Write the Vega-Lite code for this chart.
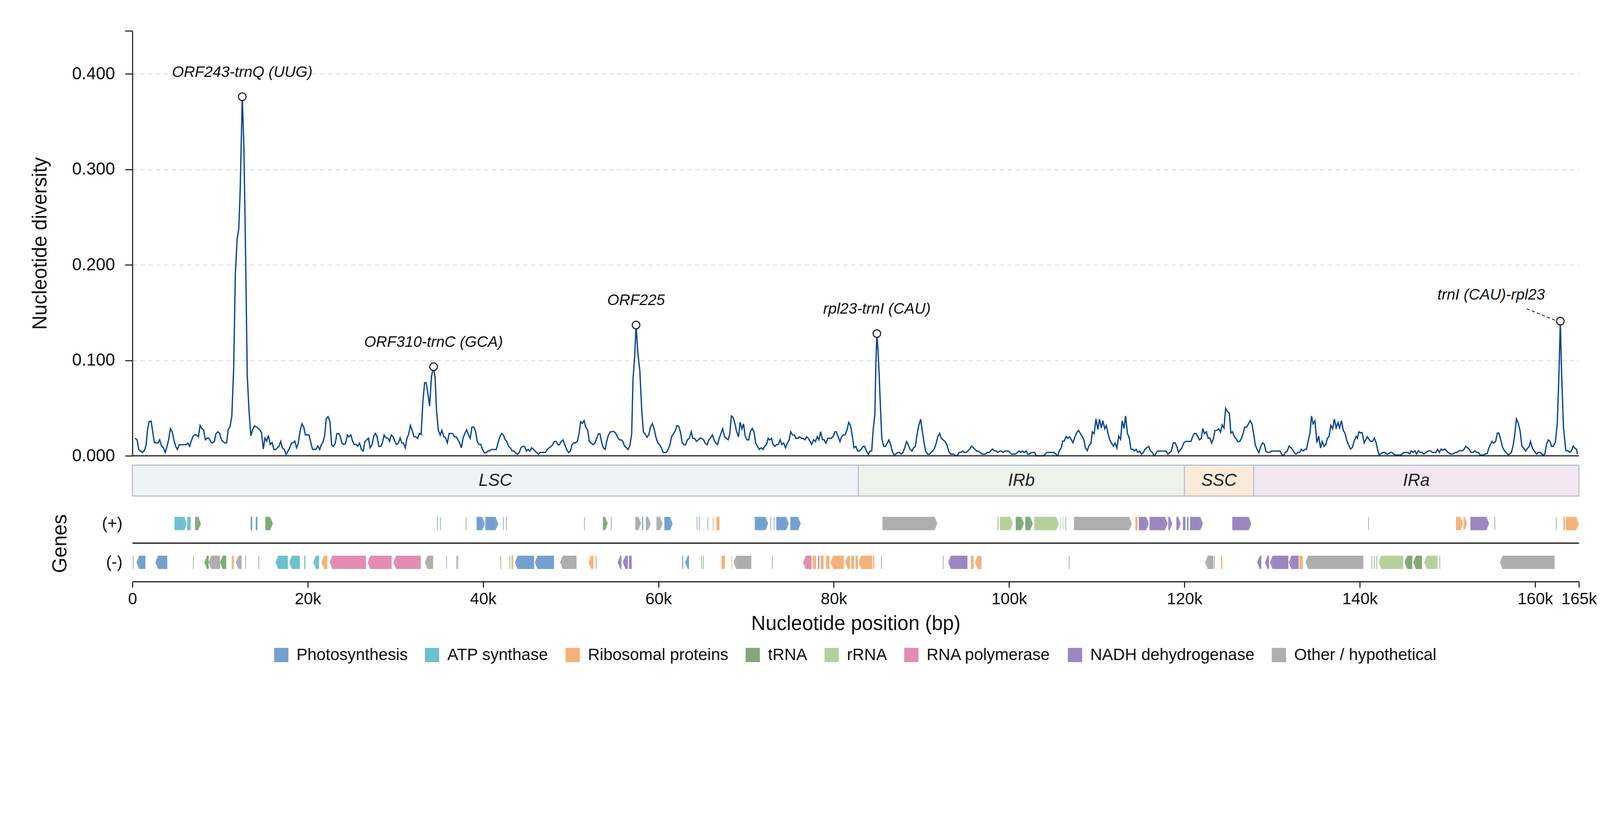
{
  "$schema": "https://vega.github.io/schema/vega-lite/v6.json",
  "background": "white",
  "padding": {"left": 77, "top": 77, "right": 5, "bottom": 5},
  "bounds": "flush",
  "spacing": 24,
  "config": {
    "view": {"stroke": null},
    "font": "Liberation Sans",
    "axis": {"labelColor": "#111", "titleColor": "#111", "titleFontWeight": "normal", "domainColor": "#222", "tickColor": "#222"}
  },
  "datasets": {
    "diversity": [
      {"pos":300,"pi":0.0183},{"pos":540,"pi":0.0167},{"pos":720,"pi":0.0067},{"pos":1120,"pi":0.0035},{"pos":1360,"pi":0.0054},{"pos":1550,"pi":0.0106},{"pos":1730,"pi":0.0274},{"pos":1900,"pi":0.0358},{"pos":2140,"pi":0.0363},{"pos":2310,"pi":0.0255},{"pos":2500,"pi":0.0138},{"pos":2910,"pi":0.0134},{"pos":3110,"pi":0.0168},{"pos":3320,"pi":0.0102},{"pos":3530,"pi":0.0084},{"pos":3740,"pi":0.0035},{"pos":3970,"pi":0.0106},{"pos":4150,"pi":0.0177},{"pos":4330,"pi":0.0284},{"pos":4540,"pi":0.0251},{"pos":4720,"pi":0.0171},{"pos":4920,"pi":0.0102},{"pos":5130,"pi":0.0067},{"pos":5340,"pi":0.0116},{"pos":6120,"pi":0.0116},{"pos":6330,"pi":0.0133},{"pos":6520,"pi":0.0099},{"pos":6700,"pi":0.0151},{"pos":6910,"pi":0.0203},{"pos":7120,"pi":0.0221},{"pos":7330,"pi":0.0218},{"pos":7530,"pi":0.0199},{"pos":7720,"pi":0.0318},{"pos":7900,"pi":0.0287},{"pos":8110,"pi":0.0273},{"pos":8330,"pi":0.0167},{"pos":8540,"pi":0.0186},{"pos":8720,"pi":0.0185},{"pos":8910,"pi":0.0151},{"pos":9110,"pi":0.0133},{"pos":9350,"pi":0.0151},{"pos":9530,"pi":0.0231},{"pos":9740,"pi":0.0251},{"pos":9950,"pi":0.0235},{"pos":10170,"pi":0.0164},{"pos":10530,"pi":0.0134},{"pos":10750,"pi":0.0138},{"pos":10920,"pi":0.0273},{"pos":11130,"pi":0.0304},{"pos":11340,"pi":0.0416},{"pos":11550,"pi":0.092},{"pos":11740,"pi":0.19},{"pos":11940,"pi":0.227},{"pos":12130,"pi":0.2375},{"pos":12290,"pi":0.277},{"pos":12530,"pi":0.376},{"pos":12720,"pi":0.322},{"pos":12920,"pi":0.203},{"pos":13100,"pi":0.084},{"pos":13300,"pi":0.047},{"pos":13510,"pi":0.0209},{"pos":13730,"pi":0.028},{"pos":13940,"pi":0.0313},{"pos":14180,"pi":0.03},{"pos":14510,"pi":0.0276},{"pos":14720,"pi":0.0244},{"pos":14930,"pi":0.0071},{"pos":15110,"pi":0.0185},{"pos":15320,"pi":0.0154},{"pos":15510,"pi":0.0213},{"pos":15720,"pi":0.0119},{"pos":15930,"pi":0.014},{"pos":16140,"pi":0.0066},{"pos":16350,"pi":0.0066},{"pos":16710,"pi":0.0099},{"pos":16920,"pi":0.0151},{"pos":17100,"pi":0.0084},{"pos":17320,"pi":0.0067},{"pos":17530,"pi":0.0014},{"pos":17920,"pi":0.0078},{"pos":18130,"pi":0.0133},{"pos":18340,"pi":0.0136},{"pos":18520,"pi":0.0154},{"pos":18730,"pi":0.0084},{"pos":18910,"pi":0.0129},{"pos":19130,"pi":0.0262},{"pos":19340,"pi":0.0335},{"pos":19550,"pi":0.0298},{"pos":19730,"pi":0.0218},{"pos":20150,"pi":0.0218},{"pos":20360,"pi":0.0134},{"pos":20540,"pi":0.0068},{"pos":20940,"pi":0.0068},{"pos":21150,"pi":0.0103},{"pos":21360,"pi":0.0066},{"pos":21540,"pi":0.0115},{"pos":21750,"pi":0.0147},{"pos":21930,"pi":0.0213},{"pos":22110,"pi":0.0391},{"pos":22320,"pi":0.041},{"pos":22530,"pi":0.0358},{"pos":22720,"pi":0.0116},{"pos":22930,"pi":0.0098},{"pos":23140,"pi":0.0132},{"pos":23320,"pi":0.0233},{"pos":23530,"pi":0.0233},{"pos":23700,"pi":0.0205},{"pos":23900,"pi":0.0132},{"pos":24100,"pi":0.0118},{"pos":24310,"pi":0.0132},{"pos":24520,"pi":0.0218},{"pos":24700,"pi":0.0199},{"pos":24910,"pi":0.0218},{"pos":25110,"pi":0.0154},{"pos":25300,"pi":0.0119},{"pos":25510,"pi":0.0119},{"pos":25710,"pi":0.0102},{"pos":25910,"pi":0.0133},{"pos":26130,"pi":0.0063},{"pos":26330,"pi":0.005},{"pos":26520,"pi":0.0149},{"pos":26930,"pi":0.0186},{"pos":27110,"pi":0.0084},{"pos":27320,"pi":0.0114},{"pos":27520,"pi":0.0203},{"pos":27720,"pi":0.0234},{"pos":27910,"pi":0.02},{"pos":28110,"pi":0.0099},{"pos":28320,"pi":0.0099},{"pos":28510,"pi":0.0133},{"pos":28710,"pi":0.0218},{"pos":28920,"pi":0.0187},{"pos":29130,"pi":0.0187},{"pos":29330,"pi":0.0151},{"pos":29530,"pi":0.0218},{"pos":29740,"pi":0.02},{"pos":29930,"pi":0.0151},{"pos":30130,"pi":0.0118},{"pos":30340,"pi":0.0133},{"pos":30540,"pi":0.0186},{"pos":30730,"pi":0.0136},{"pos":30910,"pi":0.0133},{"pos":31120,"pi":0.0083},{"pos":31320,"pi":0.0185},{"pos":31520,"pi":0.0229},{"pos":31710,"pi":0.0318},{"pos":31910,"pi":0.0267},{"pos":32120,"pi":0.0199},{"pos":32330,"pi":0.0199},{"pos":32530,"pi":0.0182},{"pos":32720,"pi":0.0234},{"pos":32930,"pi":0.0222},{"pos":33130,"pi":0.0565},{"pos":33330,"pi":0.0765},{"pos":33510,"pi":0.0765},{"pos":33720,"pi":0.0642},{"pos":33900,"pi":0.0521},{"pos":34110,"pi":0.0829},{"pos":34350,"pi":0.0933},{"pos":34530,"pi":0.0817},{"pos":34680,"pi":0.0487},{"pos":34890,"pi":0.0267},{"pos":35110,"pi":0.0216},{"pos":35300,"pi":0.0267},{"pos":35510,"pi":0.0203},{"pos":35710,"pi":0.019},{"pos":35920,"pi":0.0136},{"pos":36130,"pi":0.0234},{"pos":36520,"pi":0.0234},{"pos":36740,"pi":0.0199},{"pos":36950,"pi":0.0198},{"pos":37340,"pi":0.0132},{"pos":37520,"pi":0.0083},{"pos":37730,"pi":0.019},{"pos":37930,"pi":0.0235},{"pos":38120,"pi":0.0273},{"pos":38330,"pi":0.022},{"pos":38530,"pi":0.0182},{"pos":38730,"pi":0.0302},{"pos":38940,"pi":0.0301},{"pos":39150,"pi":0.0255},{"pos":39330,"pi":0.0151},{"pos":39540,"pi":0.0119},{"pos":39740,"pi":0.0119},{"pos":39930,"pi":0.0067},{"pos":40140,"pi":0.0031},{"pos":40340,"pi":0.0031},{"pos":40540,"pi":0.005},{"pos":40720,"pi":0.005},{"pos":40930,"pi":0.0066},{"pos":41500,"pi":0.0066},{"pos":41710,"pi":0.0138},{"pos":41920,"pi":0.02},{"pos":42120,"pi":0.0234},{"pos":42300,"pi":0.022},{"pos":42530,"pi":0.0167},{"pos":42710,"pi":0.0151},{"pos":42920,"pi":0.0099},{"pos":43100,"pi":0.0084},{"pos":43310,"pi":0.0053},{"pos":43520,"pi":0.005},{"pos":43730,"pi":0.0031},{"pos":43930,"pi":0.0016},{"pos":44130,"pi":0.0035},{"pos":44340,"pi":0.0087},{"pos":44520,"pi":0.0099},{"pos":44730,"pi":0.0099},{"pos":44940,"pi":0.005},{"pos":45140,"pi":0.0067},{"pos":45330,"pi":0.005},{"pos":45540,"pi":0.0084},{"pos":46330,"pi":0.0016},{"pos":46510,"pi":0.0035},{"pos":47110,"pi":0.0035},{"pos":47330,"pi":0.0068},{"pos":47540,"pi":0.0084},{"pos":47750,"pi":0.0099},{"pos":47930,"pi":0.0116},{"pos":48140,"pi":0.0151},{"pos":48340,"pi":0.0151},{"pos":48530,"pi":0.0116},{"pos":48710,"pi":0.0116},{"pos":48910,"pi":0.0149},{"pos":49120,"pi":0.0167},{"pos":49320,"pi":0.0115},{"pos":49530,"pi":0.0066},{"pos":49740,"pi":0.0034},{"pos":49950,"pi":0.005},{"pos":50150,"pi":0.0116},{"pos":50340,"pi":0.0136},{"pos":50550,"pi":0.0136},{"pos":50760,"pi":0.0154},{"pos":50950,"pi":0.0235},{"pos":51130,"pi":0.0357},{"pos":51310,"pi":0.0339},{"pos":51520,"pi":0.0368},{"pos":51700,"pi":0.03},{"pos":51940,"pi":0.0265},{"pos":52120,"pi":0.0149},{"pos":52330,"pi":0.0133},{"pos":52540,"pi":0.0116},{"pos":52760,"pi":0.0133},{"pos":52950,"pi":0.0182},{"pos":53150,"pi":0.0229},{"pos":53330,"pi":0.0229},{"pos":53540,"pi":0.0136},{"pos":53720,"pi":0.0084},{"pos":53930,"pi":0.0068},{"pos":54110,"pi":0.0154},{"pos":54290,"pi":0.0218},{"pos":54540,"pi":0.0252},{"pos":54900,"pi":0.0255},{"pos":55110,"pi":0.0238},{"pos":55320,"pi":0.02},{"pos":55530,"pi":0.0167},{"pos":55740,"pi":0.0167},{"pos":55950,"pi":0.0149},{"pos":56130,"pi":0.0102},{"pos":56350,"pi":0.0084},{"pos":56530,"pi":0.0066},{"pos":56740,"pi":0.0105},{"pos":56950,"pi":0.0229},{"pos":57100,"pi":0.0797},{"pos":57300,"pi":0.105},{"pos":57450,"pi":0.137},{"pos":57650,"pi":0.108},{"pos":57880,"pi":0.089},{"pos":58100,"pi":0.0474},{"pos":58290,"pi":0.0248},{"pos":58490,"pi":0.0229},{"pos":58700,"pi":0.0193},{"pos":58910,"pi":0.0222},{"pos":59090,"pi":0.03},{"pos":59300,"pi":0.0337},{"pos":59510,"pi":0.0283},{"pos":59720,"pi":0.0193},{"pos":59940,"pi":0.0134},{"pos":60120,"pi":0.0118},{"pos":60360,"pi":0.008},{"pos":60540,"pi":0.0034},{"pos":60900,"pi":0.0034},{"pos":61110,"pi":0.0066},{"pos":61320,"pi":0.0115},{"pos":61500,"pi":0.02},{"pos":61710,"pi":0.0231},{"pos":61930,"pi":0.0264},{"pos":62110,"pi":0.0317},{"pos":62320,"pi":0.0309},{"pos":62530,"pi":0.0242},{"pos":62710,"pi":0.0136},{"pos":62920,"pi":0.0115},{"pos":63100,"pi":0.0115},{"pos":63310,"pi":0.0167},{"pos":63520,"pi":0.0182},{"pos":63740,"pi":0.0252},{"pos":63920,"pi":0.0183},{"pos":64130,"pi":0.0182},{"pos":64340,"pi":0.0151},{"pos":64550,"pi":0.0167},{"pos":64760,"pi":0.0186},{"pos":64940,"pi":0.0183},{"pos":65150,"pi":0.0167},{"pos":65330,"pi":0.0133},{"pos":65550,"pi":0.0115},{"pos":65760,"pi":0.0169},{"pos":65940,"pi":0.0185},{"pos":66150,"pi":0.0218},{"pos":66360,"pi":0.0164},{"pos":66540,"pi":0.0133},{"pos":66750,"pi":0.0118},{"pos":66930,"pi":0.0182},{"pos":67140,"pi":0.0236},{"pos":67330,"pi":0.0283},{"pos":67540,"pi":0.02},{"pos":67750,"pi":0.0183},{"pos":67960,"pi":0.0168},{"pos":68140,"pi":0.0229},{"pos":68320,"pi":0.0417},{"pos":68530,"pi":0.0401},{"pos":68740,"pi":0.0332},{"pos":68920,"pi":0.0252},{"pos":69140,"pi":0.0199},{"pos":69320,"pi":0.0351},{"pos":69530,"pi":0.028},{"pos":69710,"pi":0.0335},{"pos":69900,"pi":0.0205},{"pos":70090,"pi":0.0167},{"pos":70300,"pi":0.0167},{"pos":70490,"pi":0.0252},{"pos":70700,"pi":0.0286},{"pos":70910,"pi":0.0249},{"pos":71090,"pi":0.0133},{"pos":71300,"pi":0.0099},{"pos":71510,"pi":0.0067},{"pos":71720,"pi":0.0084},{"pos":71930,"pi":0.0066},{"pos":72110,"pi":0.0099},{"pos":72330,"pi":0.0118},{"pos":72510,"pi":0.0183},{"pos":72690,"pi":0.0167},{"pos":72900,"pi":0.0183},{"pos":73080,"pi":0.0118},{"pos":73290,"pi":0.0099},{"pos":73470,"pi":0.0118},{"pos":73680,"pi":0.0118},{"pos":73890,"pi":0.0168},{"pos":74070,"pi":0.0118},{"pos":74290,"pi":0.0133},{"pos":74500,"pi":0.0084},{"pos":74710,"pi":0.0133},{"pos":74920,"pi":0.0168},{"pos":75100,"pi":0.0252},{"pos":75310,"pi":0.0218},{"pos":75520,"pi":0.0216},{"pos":75700,"pi":0.0183},{"pos":75920,"pi":0.0183},{"pos":76100,"pi":0.02},{"pos":76310,"pi":0.0183},{"pos":76490,"pi":0.0183},{"pos":76700,"pi":0.0167},{"pos":76910,"pi":0.02},{"pos":77090,"pi":0.0183},{"pos":77300,"pi":0.0151},{"pos":77480,"pi":0.0118},{"pos":77700,"pi":0.0168},{"pos":77910,"pi":0.0151},{"pos":78120,"pi":0.02},{"pos":78300,"pi":0.0167},{"pos":78510,"pi":0.0252},{"pos":78720,"pi":0.0168},{"pos":78900,"pi":0.0168},{"pos":79110,"pi":0.0133},{"pos":79320,"pi":0.0183},{"pos":79720,"pi":0.0183},{"pos":79930,"pi":0.0203},{"pos":80140,"pi":0.0252},{"pos":80290,"pi":0.0252},{"pos":80500,"pi":0.02},{"pos":80710,"pi":0.0149},{"pos":80890,"pi":0.02},{"pos":81100,"pi":0.0218},{"pos":81280,"pi":0.0218},{"pos":81500,"pi":0.0267},{"pos":81710,"pi":0.035},{"pos":81920,"pi":0.0317},{"pos":82130,"pi":0.02},{"pos":82310,"pi":0.0084},{"pos":82520,"pi":0.0099},{"pos":82730,"pi":0.005},{"pos":82910,"pi":0.005},{"pos":83120,"pi":0.0066},{"pos":83340,"pi":0.0099},{"pos":83520,"pi":0.0099},{"pos":83730,"pi":0.0048},{"pos":83940,"pi":0.0016},{"pos":84120,"pi":0.005},{"pos":84330,"pi":0.005},{"pos":84510,"pi":0.0287},{"pos":84690,"pi":0.0428},{"pos":84800,"pi":0.095},{"pos":84920,"pi":0.128},{"pos":85050,"pi":0.11},{"pos":85180,"pi":0.085},{"pos":85330,"pi":0.05},{"pos":85480,"pi":0.0182},{"pos":85690,"pi":0.0099},{"pos":85900,"pi":0.0099},{"pos":86110,"pi":0.0133},{"pos":86290,"pi":0.0167},{"pos":86500,"pi":0.0115},{"pos":86710,"pi":0.0035},{"pos":86900,"pi":0.0009},{"pos":87110,"pi":0.0022},{"pos":87320,"pi":0.0035},{"pos":87500,"pi":0.0035},{"pos":87710,"pi":0.0019},{"pos":87890,"pi":0.0035},{"pos":88100,"pi":0.0084},{"pos":88310,"pi":0.0149},{"pos":88490,"pi":0.0118},{"pos":88710,"pi":0.0066},{"pos":88920,"pi":0.005},{"pos":89100,"pi":0.0084},{"pos":89310,"pi":0.0099},{"pos":89490,"pi":0.0216},{"pos":89700,"pi":0.0319},{"pos":89910,"pi":0.0384},{"pos":90090,"pi":0.0267},{"pos":90300,"pi":0.0136},{"pos":90480,"pi":0.005},{"pos":90700,"pi":0.0017},{"pos":90910,"pi":0.0017},{"pos":91090,"pi":0.0035},{"pos":91300,"pi":0.005},{"pos":91510,"pi":0.0084},{"pos":91690,"pi":0.0133},{"pos":91870,"pi":0.02},{"pos":92080,"pi":0.0235},{"pos":92270,"pi":0.0183},{"pos":92480,"pi":0.0167},{"pos":92690,"pi":0.0151},{"pos":92900,"pi":0.0116},{"pos":93110,"pi":0.005},{"pos":93320,"pi":0.0018},{"pos":93690,"pi":0.0018},{"pos":93900,"pi":0.0001},{"pos":94080,"pi":0.0001},{"pos":94290,"pi":0.0035},{"pos":94500,"pi":0.0035},{"pos":94680,"pi":0.005},{"pos":94890,"pi":0.0035},{"pos":95100,"pi":0.0035},{"pos":95280,"pi":0.005},{"pos":95500,"pi":0.0068},{"pos":95710,"pi":0.0102},{"pos":95890,"pi":0.0087},{"pos":96100,"pi":0.0068},{"pos":96310,"pi":0.005},{"pos":96490,"pi":0.005},{"pos":96700,"pi":0.0035},{"pos":96910,"pi":0.0018},{"pos":97270,"pi":0.0018},{"pos":97520,"pi":0.0035},{"pos":97700,"pi":0.0035},{"pos":97910,"pi":0.0053},{"pos":98120,"pi":0.0071},{"pos":98300,"pi":0.0053},{"pos":98510,"pi":0.0053},{"pos":98720,"pi":0.0035},{"pos":98930,"pi":0.005},{"pos":99110,"pi":0.005},{"pos":99330,"pi":0.0035},{"pos":99510,"pi":0.005},{"pos":99900,"pi":0.005},{"pos":100110,"pi":0.0035},{"pos":100290,"pi":0.0018},{"pos":100710,"pi":0.0018},{"pos":100930,"pi":0.0035},{"pos":101140,"pi":0.005},{"pos":101320,"pi":0.0035},{"pos":101530,"pi":0.005},{"pos":101740,"pi":0.0035},{"pos":101950,"pi":0.005},{"pos":102130,"pi":0.0018},{"pos":102340,"pi":0.0018},{"pos":102550,"pi":0.0035},{"pos":102920,"pi":0.0035},{"pos":103100,"pi":0.0},{"pos":103940,"pi":0.0},{"pos":104300,"pi":0.0035},{"pos":105120,"pi":0.0035},{"pos":105330,"pi":0.0018},{"pos":105540,"pi":0.0},{"pos":105720,"pi":0.005},{"pos":105960,"pi":0.0084},{"pos":106110,"pi":0.0154},{"pos":106290,"pi":0.0154},{"pos":106510,"pi":0.0203},{"pos":106690,"pi":0.0182},{"pos":106900,"pi":0.02},{"pos":107080,"pi":0.0171},{"pos":107290,"pi":0.0138},{"pos":107500,"pi":0.0196},{"pos":107710,"pi":0.0242},{"pos":107920,"pi":0.0267},{"pos":108130,"pi":0.0234},{"pos":108350,"pi":0.02},{"pos":108530,"pi":0.0167},{"pos":108710,"pi":0.0084},{"pos":108920,"pi":0.0054},{"pos":109130,"pi":0.0112},{"pos":109340,"pi":0.0128},{"pos":109490,"pi":0.0251},{"pos":109700,"pi":0.0231},{"pos":109910,"pi":0.0386},{"pos":110130,"pi":0.0275},{"pos":110310,"pi":0.0384},{"pos":110520,"pi":0.0293},{"pos":110700,"pi":0.0368},{"pos":110910,"pi":0.0283},{"pos":111090,"pi":0.0317},{"pos":111300,"pi":0.0229},{"pos":111480,"pi":0.0167},{"pos":111690,"pi":0.0132},{"pos":111910,"pi":0.0099},{"pos":112090,"pi":0.0133},{"pos":112300,"pi":0.0081},{"pos":112510,"pi":0.0207},{"pos":112720,"pi":0.0173},{"pos":112900,"pi":0.0366},{"pos":113110,"pi":0.0286},{"pos":113290,"pi":0.0417},{"pos":113500,"pi":0.0235},{"pos":113720,"pi":0.0183},{"pos":113900,"pi":0.007},{"pos":114110,"pi":0.0068},{"pos":114290,"pi":0.005},{"pos":114500,"pi":0.0068},{"pos":114680,"pi":0.0035},{"pos":114890,"pi":0.005},{"pos":115100,"pi":0.0017},{"pos":115310,"pi":0.0035},{"pos":115500,"pi":0.0068},{"pos":115710,"pi":0.0084},{"pos":115920,"pi":0.0099},{"pos":116130,"pi":0.005},{"pos":116340,"pi":0.0035},{"pos":116550,"pi":0.0001},{"pos":116700,"pi":0.0018},{"pos":116920,"pi":0.005},{"pos":117910,"pi":0.005},{"pos":118120,"pi":0.0018},{"pos":118330,"pi":0.0035},{"pos":118510,"pi":0.005},{"pos":118730,"pi":0.0136},{"pos":118940,"pi":0.0136},{"pos":119120,"pi":0.0102},{"pos":119330,"pi":0.0035},{"pos":119540,"pi":0.0066},{"pos":119720,"pi":0.0084},{"pos":119930,"pi":0.0136},{"pos":120140,"pi":0.0151},{"pos":120750,"pi":0.0151},{"pos":120930,"pi":0.02},{"pos":121140,"pi":0.0235},{"pos":121320,"pi":0.0235},{"pos":121530,"pi":0.02},{"pos":121710,"pi":0.0167},{"pos":121920,"pi":0.0182},{"pos":122100,"pi":0.0286},{"pos":122280,"pi":0.0234},{"pos":122500,"pi":0.0252},{"pos":122710,"pi":0.0185},{"pos":122920,"pi":0.0185},{"pos":123100,"pi":0.0133},{"pos":123310,"pi":0.0182},{"pos":123490,"pi":0.0265},{"pos":123730,"pi":0.0267},{"pos":123910,"pi":0.0283},{"pos":124120,"pi":0.0249},{"pos":124310,"pi":0.0324},{"pos":124520,"pi":0.0291},{"pos":124700,"pi":0.0497},{"pos":124910,"pi":0.0464},{"pos":125120,"pi":0.0448},{"pos":125300,"pi":0.0238},{"pos":125480,"pi":0.0252},{"pos":125690,"pi":0.02},{"pos":125870,"pi":0.0183},{"pos":126090,"pi":0.0149},{"pos":126300,"pi":0.0149},{"pos":126510,"pi":0.0183},{"pos":126690,"pi":0.0231},{"pos":126870,"pi":0.03},{"pos":127110,"pi":0.03},{"pos":127290,"pi":0.0332},{"pos":127500,"pi":0.0368},{"pos":127710,"pi":0.0332},{"pos":127900,"pi":0.0229},{"pos":128080,"pi":0.0116},{"pos":128290,"pi":0.0066},{"pos":128500,"pi":0.0035},{"pos":128710,"pi":0.0099},{"pos":128920,"pi":0.0136},{"pos":129130,"pi":0.0118},{"pos":129280,"pi":0.005},{"pos":129490,"pi":0.0035},{"pos":129710,"pi":0.0035},{"pos":129920,"pi":0.005},{"pos":130910,"pi":0.005},{"pos":131090,"pi":0.0018},{"pos":131300,"pi":0.0001},{"pos":131510,"pi":0.0035},{"pos":131730,"pi":0.005},{"pos":131940,"pi":0.0102},{"pos":132120,"pi":0.0087},{"pos":132330,"pi":0.0066},{"pos":132510,"pi":0.0035},{"pos":132720,"pi":0.0017},{"pos":132930,"pi":0.0035},{"pos":133140,"pi":0.0035},{"pos":133330,"pi":0.0068},{"pos":133540,"pi":0.005},{"pos":133720,"pi":0.0068},{"pos":133930,"pi":0.0068},{"pos":134140,"pi":0.0164},{"pos":134320,"pi":0.0234},{"pos":134500,"pi":0.0417},{"pos":134680,"pi":0.0335},{"pos":134890,"pi":0.0366},{"pos":135110,"pi":0.0138},{"pos":135320,"pi":0.0207},{"pos":135530,"pi":0.0081},{"pos":135710,"pi":0.0151},{"pos":135920,"pi":0.0099},{"pos":136130,"pi":0.0118},{"pos":136310,"pi":0.0185},{"pos":136490,"pi":0.02},{"pos":136700,"pi":0.0319},{"pos":136910,"pi":0.0283},{"pos":137100,"pi":0.0384},{"pos":137310,"pi":0.0293},{"pos":137520,"pi":0.0348},{"pos":137700,"pi":0.0293},{"pos":137910,"pi":0.0368},{"pos":138120,"pi":0.0267},{"pos":138330,"pi":0.0234},{"pos":138510,"pi":0.0164},{"pos":138730,"pi":0.0112},{"pos":138940,"pi":0.0071},{"pos":139150,"pi":0.0087},{"pos":139400,"pi":0.0164},{"pos":139600,"pi":0.0203},{"pos":139730,"pi":0.0183},{"pos":139900,"pi":0.0251},{"pos":140100,"pi":0.0239},{"pos":140270,"pi":0.0244},{"pos":140500,"pi":0.0136},{"pos":140870,"pi":0.02},{"pos":141070,"pi":0.0171},{"pos":141240,"pi":0.0151},{"pos":141470,"pi":0.0151},{"pos":141670,"pi":0.0187},{"pos":141870,"pi":0.0136},{"pos":142010,"pi":0.0074},{"pos":142210,"pi":0.0009},{"pos":142640,"pi":0.0035},{"pos":142840,"pi":0.0035},{"pos":143140,"pi":0.0016},{"pos":143510,"pi":0.0035},{"pos":143670,"pi":0.0035},{"pos":144010,"pi":0.0009},{"pos":144710,"pi":0.0009},{"pos":145040,"pi":0.0035},{"pos":145510,"pi":0.0035},{"pos":145710,"pi":0.0019},{"pos":145880,"pi":0.0053},{"pos":146080,"pi":0.0035},{"pos":146280,"pi":0.0053},{"pos":146480,"pi":0.0019},{"pos":146680,"pi":0.0053},{"pos":146880,"pi":0.0035},{"pos":147110,"pi":0.0035},{"pos":147310,"pi":0.0019},{"pos":147550,"pi":0.0035},{"pos":147880,"pi":0.0053},{"pos":148080,"pi":0.0053},{"pos":148280,"pi":0.0035},{"pos":148680,"pi":0.0035},{"pos":148880,"pi":0.0067},{"pos":149080,"pi":0.0035},{"pos":149290,"pi":0.0071},{"pos":149450,"pi":0.0058},{"pos":149690,"pi":0.0071},{"pos":150090,"pi":0.0035},{"pos":150320,"pi":0.0019},{"pos":150650,"pi":0.0019},{"pos":150890,"pi":0.0035},{"pos":151090,"pi":0.0035},{"pos":151320,"pi":0.0053},{"pos":151720,"pi":0.0053},{"pos":151920,"pi":0.0071},{"pos":152090,"pi":0.0099},{"pos":152260,"pi":0.0087},{"pos":152490,"pi":0.0067},{"pos":152690,"pi":0.0035},{"pos":152920,"pi":0.0035},{"pos":153130,"pi":0.0053},{"pos":153330,"pi":0.0035},{"pos":153530,"pi":0.0035},{"pos":153730,"pi":0.0009},{"pos":154130,"pi":0.0009},{"pos":154360,"pi":0.0022},{"pos":154530,"pi":0.0022},{"pos":154700,"pi":0.0074},{"pos":154900,"pi":0.0119},{"pos":155100,"pi":0.0151},{"pos":155260,"pi":0.0132},{"pos":155500,"pi":0.0151},{"pos":155700,"pi":0.0239},{"pos":155860,"pi":0.0239},{"pos":156060,"pi":0.0177},{"pos":156300,"pi":0.0087},{"pos":156500,"pi":0.0054},{"pos":156700,"pi":0.0035},{"pos":156930,"pi":0.0009},{"pos":157300,"pi":0.0035},{"pos":157500,"pi":0.011},{"pos":157670,"pi":0.0216},{"pos":157870,"pi":0.0386},{"pos":158070,"pi":0.0345},{"pos":158300,"pi":0.0255},{"pos":158500,"pi":0.0099},{"pos":158700,"pi":0.008},{"pos":158940,"pi":0.005},{"pos":159140,"pi":0.008},{"pos":159340,"pi":0.0099},{"pos":159470,"pi":0.0151},{"pos":159700,"pi":0.008},{"pos":159900,"pi":0.005},{"pos":160170,"pi":0.0018},{"pos":160410,"pi":0.0035},{"pos":160610,"pi":0.0035},{"pos":160870,"pi":0.0009},{"pos":161110,"pi":0.0016},{"pos":161310,"pi":0.0123},{"pos":161510,"pi":0.0167},{"pos":161710,"pi":0.0151},{"pos":161870,"pi":0.0099},{"pos":162080,"pi":0.0099},{"pos":162310,"pi":0.0141},{"pos":162540,"pi":0.0345},{"pos":162740,"pi":0.0913},{"pos":162880,"pi":0.141},{"pos":163010,"pi":0.0913},{"pos":163240,"pi":0.0293},{"pos":163510,"pi":0.0054},{"pos":163750,"pi":0.0054},{"pos":163950,"pi":0.0035},{"pos":164150,"pi":0.0053},{"pos":164350,"pi":0.0102},{"pos":164550,"pi":0.008},{"pos":164750,"pi":0.0067},{"pos":164820,"pi":0.0016}
    ],
    "peaks": [
      {"pos": 12530, "pi": 0.376, "label": "ORF243-trnQ (UUG)"},
      {"pos": 34350, "pi": 0.0933, "label": "ORF310-trnC (GCA)"},
      {"pos": 57450, "pi": 0.137, "label": "ORF225"},
      {"pos": 84920, "pi": 0.128, "label": "rpl23-trnI (CAU)"},
      {"pos": 162880, "pi": 0.141, "label": "trnI (CAU)-rpl23"}
    ],
    "regions": [
      {"region": "LSC", "start": 0, "end": 82800},
      {"region": "IRb", "start": 82800, "end": 120000},
      {"region": "SSC", "start": 120000, "end": 127900},
      {"region": "IRa", "start": 127900, "end": 165000}
    ],
    "genes": [
      {"start":4800,"end":6210,"strand":"+","cat":"ATP synthase"},
      {"start":6250,"end":6640,"strand":"+","cat":"ATP synthase"},
      {"start":7150,"end":7810,"strand":"+","cat":"tRNA"},
      {"start":13480,"end":13670,"strand":"+","cat":"Photosynthesis"},
      {"start":14060,"end":14260,"strand":"+","cat":"Photosynthesis"},
      {"start":15160,"end":16020,"strand":"+","cat":"tRNA"},
      {"start":34750,"end":34820,"strand":"+","cat":"tRNA"},
      {"start":35100,"end":35170,"strand":"+","cat":"Photosynthesis"},
      {"start":38030,"end":38100,"strand":"+","cat":"tRNA"},
      {"start":39260,"end":40200,"strand":"+","cat":"Photosynthesis"},
      {"start":40250,"end":41720,"strand":"+","cat":"Photosynthesis"},
      {"start":42280,"end":42350,"strand":"+","cat":"Photosynthesis"},
      {"start":42630,"end":42700,"strand":"+","cat":"Photosynthesis"},
      {"start":51530,"end":51600,"strand":"+","cat":"tRNA"},
      {"start":53670,"end":54220,"strand":"+","cat":"tRNA"},
      {"start":54580,"end":54650,"strand":"+","cat":"tRNA"},
      {"start":57360,"end":58020,"strand":"+","cat":"Other / hypothetical"},
      {"start":58140,"end":58260,"strand":"+","cat":"Photosynthesis"},
      {"start":58570,"end":59120,"strand":"+","cat":"Other / hypothetical"},
      {"start":59780,"end":60480,"strand":"+","cat":"Other / hypothetical"},
      {"start":60680,"end":61620,"strand":"+","cat":"Photosynthesis"},
      {"start":64370,"end":64440,"strand":"+","cat":"Photosynthesis"},
      {"start":64630,"end":64700,"strand":"+","cat":"Photosynthesis"},
      {"start":65610,"end":65680,"strand":"+","cat":"Photosynthesis"},
      {"start":66200,"end":66290,"strand":"+","cat":"Ribosomal proteins"},
      {"start":66620,"end":66970,"strand":"+","cat":"Ribosomal proteins"},
      {"start":70990,"end":72510,"strand":"+","cat":"Photosynthesis"},
      {"start":72770,"end":72840,"strand":"+","cat":"Photosynthesis"},
      {"start":73160,"end":73230,"strand":"+","cat":"Photosynthesis"},
      {"start":73450,"end":74860,"strand":"+","cat":"Photosynthesis"},
      {"start":75050,"end":76230,"strand":"+","cat":"Photosynthesis"},
      {"start":85560,"end":91810,"strand":"+","cat":"Other / hypothetical"},
      {"start":98700,"end":98780,"strand":"+","cat":"tRNA"},
      {"start":98960,"end":100440,"strand":"+","cat":"rRNA"},
      {"start":100760,"end":101690,"strand":"+","cat":"tRNA"},
      {"start":101850,"end":102710,"strand":"+","cat":"tRNA"},
      {"start":102870,"end":105680,"strand":"+","cat":"rRNA"},
      {"start":105850,"end":105920,"strand":"+","cat":"rRNA"},
      {"start":106130,"end":106200,"strand":"+","cat":"rRNA"},
      {"start":106430,"end":106500,"strand":"+","cat":"tRNA"},
      {"start":107400,"end":114000,"strand":"+","cat":"Other / hypothetical"},
      {"start":114400,"end":114640,"strand":"+","cat":"Ribosomal proteins"},
      {"start":114800,"end":115930,"strand":"+","cat":"NADH dehydrogenase"},
      {"start":116020,"end":118090,"strand":"+","cat":"NADH dehydrogenase"},
      {"start":118160,"end":118620,"strand":"+","cat":"NADH dehydrogenase"},
      {"start":119080,"end":119580,"strand":"+","cat":"NADH dehydrogenase"},
      {"start":119830,"end":120120,"strand":"+","cat":"NADH dehydrogenase"},
      {"start":120290,"end":120470,"strand":"+","cat":"Photosynthesis"},
      {"start":120650,"end":122110,"strand":"+","cat":"NADH dehydrogenase"},
      {"start":125460,"end":127630,"strand":"+","cat":"NADH dehydrogenase"},
      {"start":140970,"end":141040,"strand":"+","cat":"tRNA"},
      {"start":150980,"end":151770,"strand":"+","cat":"Ribosomal proteins"},
      {"start":151840,"end":152260,"strand":"+","cat":"Ribosomal proteins"},
      {"start":152620,"end":154750,"strand":"+","cat":"NADH dehydrogenase"},
      {"start":155370,"end":155440,"strand":"+","cat":"tRNA"},
      {"start":162370,"end":162440,"strand":"+","cat":"tRNA"},
      {"start":163230,"end":163410,"strand":"+","cat":"Ribosomal proteins"},
      {"start":163510,"end":165000,"strand":"+","cat":"Ribosomal proteins"},
      {"start":50,"end":120,"strand":"-","cat":"tRNA"},
      {"start":470,"end":1480,"strand":"-","cat":"Photosynthesis"},
      {"start":2620,"end":3980,"strand":"-","cat":"Photosynthesis"},
      {"start":6920,"end":6990,"strand":"-","cat":"tRNA"},
      {"start":8200,"end":8700,"strand":"-","cat":"tRNA"},
      {"start":8700,"end":10000,"strand":"-","cat":"Other / hypothetical"},
      {"start":10000,"end":10700,"strand":"-","cat":"tRNA"},
      {"start":11330,"end":11560,"strand":"-","cat":"Ribosomal proteins"},
      {"start":11800,"end":12460,"strand":"-","cat":"Other / hypothetical"},
      {"start":12870,"end":12940,"strand":"-","cat":"tRNA"},
      {"start":14380,"end":14450,"strand":"-","cat":"tRNA"},
      {"start":16330,"end":17730,"strand":"-","cat":"ATP synthase"},
      {"start":17890,"end":19100,"strand":"-","cat":"ATP synthase"},
      {"start":19600,"end":19730,"strand":"-","cat":"ATP synthase"},
      {"start":20630,"end":21290,"strand":"-","cat":"ATP synthase"},
      {"start":21560,"end":22230,"strand":"-","cat":"Ribosomal proteins"},
      {"start":22500,"end":26640,"strand":"-","cat":"RNA polymerase"},
      {"start":26840,"end":29570,"strand":"-","cat":"RNA polymerase"},
      {"start":29770,"end":32890,"strand":"-","cat":"RNA polymerase"},
      {"start":33360,"end":34300,"strand":"-","cat":"Other / hypothetical"},
      {"start":35790,"end":35860,"strand":"-","cat":"Photosynthesis"},
      {"start":36960,"end":37030,"strand":"-","cat":"tRNA"},
      {"start":37080,"end":37150,"strand":"-","cat":"tRNA"},
      {"start":41970,"end":42040,"strand":"-","cat":"tRNA"},
      {"start":43020,"end":43090,"strand":"-","cat":"tRNA"},
      {"start":43240,"end":43440,"strand":"-","cat":"Ribosomal proteins"},
      {"start":43630,"end":45820,"strand":"-","cat":"Photosynthesis"},
      {"start":45900,"end":48090,"strand":"-","cat":"Photosynthesis"},
      {"start":48790,"end":50660,"strand":"-","cat":"Other / hypothetical"},
      {"start":52030,"end":52580,"strand":"-","cat":"Ribosomal proteins"},
      {"start":52860,"end":52930,"strand":"-","cat":"tRNA"},
      {"start":55350,"end":55780,"strand":"-","cat":"NADH dehydrogenase"},
      {"start":55940,"end":56520,"strand":"-","cat":"NADH dehydrogenase"},
      {"start":56640,"end":56950,"strand":"-","cat":"NADH dehydrogenase"},
      {"start":62710,"end":62820,"strand":"-","cat":"Photosynthesis"},
      {"start":63050,"end":63490,"strand":"-","cat":"Photosynthesis"},
      {"start":64910,"end":64980,"strand":"-","cat":"tRNA"},
      {"start":65100,"end":65170,"strand":"-","cat":"tRNA"},
      {"start":67200,"end":67590,"strand":"-","cat":"Ribosomal proteins"},
      {"start":68340,"end":68410,"strand":"-","cat":"Ribosomal proteins"},
      {"start":68570,"end":70600,"strand":"-","cat":"Other / hypothetical"},
      {"start":72950,"end":73020,"strand":"-","cat":"Photosynthesis"},
      {"start":76500,"end":77480,"strand":"-","cat":"RNA polymerase"},
      {"start":77630,"end":77980,"strand":"-","cat":"Ribosomal proteins"},
      {"start":78180,"end":78370,"strand":"-","cat":"Other / hypothetical"},
      {"start":78490,"end":78840,"strand":"-","cat":"Ribosomal proteins"},
      {"start":79120,"end":79510,"strand":"-","cat":"Ribosomal proteins"},
      {"start":79620,"end":81150,"strand":"-","cat":"Ribosomal proteins"},
      {"start":81300,"end":81850,"strand":"-","cat":"Ribosomal proteins"},
      {"start":82000,"end":82320,"strand":"-","cat":"Ribosomal proteins"},
      {"start":82470,"end":82750,"strand":"-","cat":"Ribosomal proteins"},
      {"start":82830,"end":84390,"strand":"-","cat":"Ribosomal proteins"},
      {"start":84470,"end":84620,"strand":"-","cat":"Ribosomal proteins"},
      {"start":85410,"end":85480,"strand":"-","cat":"tRNA"},
      {"start":92450,"end":92520,"strand":"-","cat":"tRNA"},
      {"start":93060,"end":95250,"strand":"-","cat":"NADH dehydrogenase"},
      {"start":95640,"end":95950,"strand":"-","cat":"Ribosomal proteins"},
      {"start":96110,"end":96850,"strand":"-","cat":"Ribosomal proteins"},
      {"start":106820,"end":106890,"strand":"-","cat":"tRNA"},
      {"start":122360,"end":123320,"strand":"-","cat":"Other / hypothetical"},
      {"start":123400,"end":123470,"strand":"-","cat":"tRNA"},
      {"start":124170,"end":124320,"strand":"-","cat":"Ribosomal proteins"},
      {"start":128300,"end":128770,"strand":"-","cat":"NADH dehydrogenase"},
      {"start":129190,"end":129660,"strand":"-","cat":"NADH dehydrogenase"},
      {"start":129760,"end":131860,"strand":"-","cat":"NADH dehydrogenase"},
      {"start":131900,"end":133040,"strand":"-","cat":"NADH dehydrogenase"},
      {"start":133110,"end":133500,"strand":"-","cat":"Ribosomal proteins"},
      {"start":133820,"end":140410,"strand":"-","cat":"Other / hypothetical"},
      {"start":141340,"end":141410,"strand":"-","cat":"tRNA"},
      {"start":141620,"end":141690,"strand":"-","cat":"tRNA"},
      {"start":141910,"end":141980,"strand":"-","cat":"tRNA"},
      {"start":142150,"end":144960,"strand":"-","cat":"rRNA"},
      {"start":145110,"end":146000,"strand":"-","cat":"tRNA"},
      {"start":146100,"end":147100,"strand":"-","cat":"tRNA"},
      {"start":147350,"end":148880,"strand":"-","cat":"rRNA"},
      {"start":149100,"end":149170,"strand":"-","cat":"tRNA"},
      {"start":155990,"end":162230,"strand":"-","cat":"Other / hypothetical"}
    ]
  },
  "vconcat": [
    {
      "width": 3703,
      "height": 1088,
      "layer": [
        {
          "data": {"name": "diversity"},
          "mark": {"type": "line", "color": "#0b4596", "strokeWidth": 3.3},
          "encoding": {
            "x": {
              "field": "pos", "type": "quantitative",
              "scale": {"domain": [0, 165000], "nice": false, "zero": false},
              "axis": null
            },
            "y": {
              "field": "pi", "type": "quantitative",
              "scale": {"domain": [0, 0.445], "nice": false},
              "axis": {
                "title": "Nucleotide diversity",
                "values": [0, 0.1, 0.2, 0.3, 0.4, 0.445],
                "labelExpr": "datum.value > 0.44 ? '' : format(datum.value, '.3f')",
                "grid": true,
                "gridDash": [11, 9],
                "gridColor": "#d5dbe1",
                "gridWidth": 2.4,
                "gridOpacity": {"condition": {"test": "datum.value > 0.44 || datum.value == 0", "value": 0}, "value": 1},
                "tickSize": 19,
                "tickWidth": 2.8,
                "domainWidth": 2.8,
                "labelFontSize": 44,
                "labelPadding": 26,
                "titleFontSize": 51,
                "titlePadding": 54
              }
            }
          }
        },
        {
          "data": {"values": [{}]},
          "mark": {"type": "rule", "color": "#222", "strokeWidth": 2.8},
          "encoding": {"y": {"datum": 0, "type": "quantitative"}}
        },
        {
          "data": {"name": "peaks"},
          "mark": {"type": "point", "shape": "circle", "filled": true, "fill": "white", "stroke": "#222", "strokeWidth": 2.8, "size": 380, "opacity": 1},
          "encoding": {
            "x": {"field": "pos", "type": "quantitative"},
            "y": {"field": "pi", "type": "quantitative"}
          }
        },
        {
          "data": {"name": "peaks"},
          "transform": [{"filter": "datum.label != 'trnI (CAU)-rpl23'"}],
          "mark": {"type": "text", "fontStyle": "italic", "fontSize": 39, "dy": -63, "baseline": "middle", "color": "#111"},
          "encoding": {
            "x": {"field": "pos", "type": "quantitative"},
            "y": {"field": "pi", "type": "quantitative"},
            "text": {"field": "label"}
          }
        },
        {
          "data": {"name": "peaks"},
          "transform": [{"filter": "datum.label == 'trnI (CAU)-rpl23'"}],
          "mark": {"type": "text", "fontStyle": "italic", "fontSize": 39, "dx": -177, "dy": -67, "baseline": "middle", "color": "#111"},
          "encoding": {
            "x": {"field": "pos", "type": "quantitative"},
            "y": {"field": "pi", "type": "quantitative"},
            "text": {"field": "label"}
          }
        },
        {
          "data": {"values": [{}]},
          "mark": {"type": "rule", "strokeDash": [8, 6], "color": "#333", "strokeWidth": 2.4},
          "encoding": {
            "x": {"datum": 159050, "type": "quantitative"},
            "x2": {"datum": 162300},
            "y": {"datum": 0.1539, "type": "quantitative"},
            "y2": {"datum": 0.1419}
          }
        }
      ]
    },
    {
      "width": 3703,
      "height": 79,
      "data": {"name": "regions"},
      "layer": [
        {
          "mark": {"type": "rect", "stroke": "#b8c1cb", "strokeWidth": 2.8},
          "encoding": {
            "x": {"field": "start", "type": "quantitative", "scale": {"domain": [0, 165000], "nice": false}, "axis": null},
            "x2": {"field": "end"},
            "fill": {
              "field": "region", "type": "nominal",
              "scale": {"domain": ["LSC", "IRb", "SSC", "IRa"], "range": ["#eef3f6", "#edf2ea", "#f9eadb", "#f2e7f1"]},
              "legend": null
            }
          }
        },
        {
          "transform": [{"calculate": "(datum.start + datum.end) / 2", "as": "mid"}],
          "mark": {"type": "text", "fontStyle": "italic", "fontSize": 44, "color": "#222", "baseline": "middle"},
          "encoding": {
            "x": {"field": "mid", "type": "quantitative"},
            "text": {"field": "region"}
          }
        }
      ]
    },
    {
      "width": 3703,
      "height": 195,
      "data": {"name": "genes"},
      "layer": [
        {
          "transform": [{"filter": "datum.strand == '+' && datum.end - datum.start <= 400"}],
          "mark": {"type": "rect", "opacity": 0.85},
          "encoding": {
            "x": {
              "field": "start", "type": "quantitative",
              "scale": {"domain": [0, 165000], "nice": false},
              "axis": {
                "title": "Nucleotide position (bp)",
                "values": [0, 20000, 40000, 60000, 80000, 100000, 120000, 140000, 160000, 165000],
                "labelExpr": "datum.value == 0 ? '0' : (datum.value / 1000) + 'k'",
                "labelOverlap": false,
                "labelBound": false,
                "labelFlush": false,
                "grid": false,
                "tickSize": 15,
                "tickWidth": 2.8,
                "domainWidth": 2.8,
                "labelFontSize": 42,
                "labelPadding": 9,
                "titleFontSize": 51,
                "titlePadding": 18
              }
            },
            "x2": {"field": "end"},
            "y": {
              "datum": 0.524, "type": "quantitative",
              "scale": {"domain": [-1.5, 1.5], "nice": false},
              "axis": {
                "title": "Genes",
                "values": [0.786, -0.743],
                "labelExpr": "datum.value > 0 ? '(+)' : '(-)'",
                "domain": false,
                "ticks": false,
                "grid": false,
                "labelFontSize": 42,
                "labelPadding": 26,
                "titleFontSize": 51,
                "titlePadding": 80
              }
            },
            "y2": {"datum": 1.049},
            "color": {
              "field": "cat", "type": "nominal",
              "scale": {
                "domain": ["Photosynthesis", "ATP synthase", "Ribosomal proteins", "tRNA", "rRNA", "RNA polymerase", "NADH dehydrogenase", "Other / hypothetical"],
                "range": ["#5b8fc7", "#55b5c5", "#f2a563", "#6b9a60", "#a8c98a", "#de78a5", "#8a72b5", "#a0a0a0"]
              },
              "legend": {
                "title": null,
                "orient": "none",
                "legendX": 360,
                "legendY": 1577,
                "direction": "horizontal",
                "symbolType": "square",
                "symbolSize": 1340,
                "symbolOpacity": 1,
                "symbolStrokeWidth": 0,
                "labelFontSize": 42,
                "labelColor": "#111",
                "labelLimit": 0,
                "labelOffset": 18,
                "columnPadding": 41
              }
            }
          }
        },
        {
          "transform": [{"filter": "datum.strand == '+' && datum.end - datum.start > 400"}],
          "mark": {"type": "rect", "opacity": 0.85, "x2Offset": -6.6},
          "encoding": {
            "x": {"field": "start", "type": "quantitative"},
            "x2": {"field": "end"},
            "y": {"datum": 0.524, "type": "quantitative"},
            "y2": {"datum": 1.049},
            "color": {"field": "cat", "type": "nominal"}
          }
        },
        {
          "transform": [{"filter": "datum.strand == '+' && datum.end - datum.start > 400"}],
          "mark": {"type": "point", "shape": "M -0.39 -1 L 0 0 L -0.39 1 Z", "filled": true, "opacity": 0.85, "size": 1163, "strokeWidth": 0},
          "encoding": {
            "x": {"field": "end", "type": "quantitative"},
            "y": {"datum": 0.7865, "type": "quantitative"},
            "color": {"field": "cat", "type": "nominal"}
          }
        },
        {
          "transform": [{"filter": "datum.strand == '-' && datum.end - datum.start <= 400"}],
          "mark": {"type": "rect", "opacity": 0.85},
          "encoding": {
            "x": {"field": "start", "type": "quantitative"},
            "x2": {"field": "end"},
            "y": {"datum": -0.48, "type": "quantitative"},
            "y2": {"datum": -1.005},
            "color": {"field": "cat", "type": "nominal"}
          }
        },
        {
          "transform": [{"filter": "datum.strand == '-' && datum.end - datum.start > 400"}],
          "mark": {"type": "rect", "opacity": 0.85, "xOffset": 6.6},
          "encoding": {
            "x": {"field": "start", "type": "quantitative"},
            "x2": {"field": "end"},
            "y": {"datum": -0.48, "type": "quantitative"},
            "y2": {"datum": -1.005},
            "color": {"field": "cat", "type": "nominal"}
          }
        },
        {
          "transform": [{"filter": "datum.strand == '-' && datum.end - datum.start > 400"}],
          "mark": {"type": "point", "shape": "M 0.39 -1 L 0 0 L 0.39 1 Z", "filled": true, "opacity": 0.85, "size": 1163, "strokeWidth": 0},
          "encoding": {
            "x": {"field": "start", "type": "quantitative"},
            "y": {"datum": -0.7425, "type": "quantitative"},
            "color": {"field": "cat", "type": "nominal"}
          }
        },
        {
          "data": {"values": [{}]},
          "mark": {"type": "rule", "color": "#333", "strokeWidth": 3.8},
          "encoding": {"y": {"datum": 0.015, "type": "quantitative"}}
        }
      ]
    }
  ]
}
